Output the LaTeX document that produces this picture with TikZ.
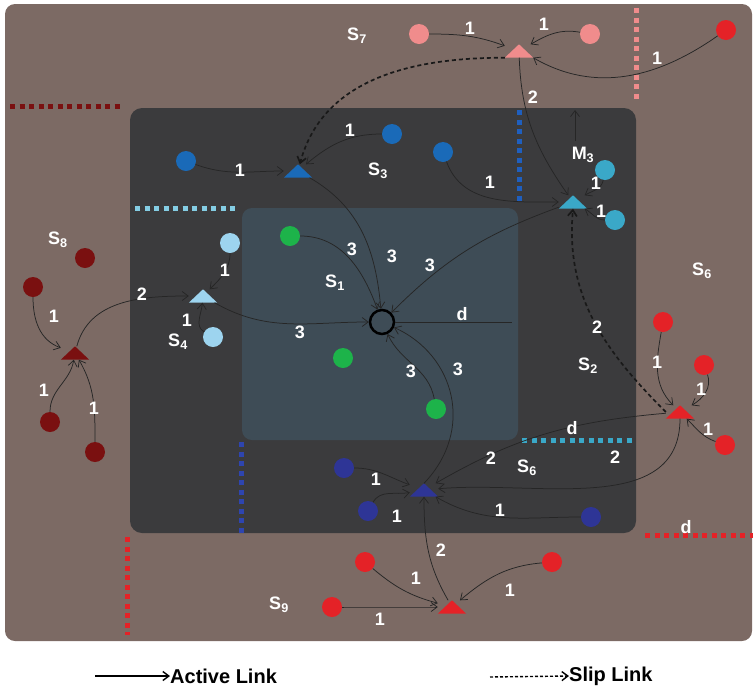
\documentclass[tikz,border=0pt]{standalone}
\usepackage{fontspec}
\setmainfont{Liberation Sans}
\usetikzlibrary{arrows.meta}
\definecolor{bgbrown}{RGB}{124,106,100}
\definecolor{darkbox}{RGB}{59,59,61}
\definecolor{slate}{RGB}{62,76,86}
\definecolor{pinkc}{RGB}{240,140,140}
\definecolor{redc}{RGB}{228,34,39}
\definecolor{dredc}{RGB}{122,16,16}
\definecolor{bluec}{RGB}{26,106,184}
\definecolor{cyanc}{RGB}{58,168,200}
\definecolor{lbluec}{RGB}{157,212,239}
\definecolor{greenc}{RGB}{29,179,74}
\definecolor{indigoc}{RGB}{46,53,150}
\definecolor{ltcyan}{RGB}{132,205,228}
\definecolor{dotblue}{RGB}{31,95,191}
\definecolor{dotindigo}{RGB}{46,69,176}
\begin{document}
\begin{tikzpicture}[x=1pt,y=-1pt,
  dot/.style={circle, fill=#1, minimum size=20pt, inner sep=0pt},
  tri/.style={minimum width=28pt, minimum height=13pt, inner sep=0pt},
  lbl/.style={text=white, font=\bfseries\fontsize{18}{18}\selectfont, inner sep=0pt},
  link/.style={->, line width=0.75pt, draw=black!85},
  slip/.style={->, line width=1.7pt, dash pattern=on 4pt off 3pt, draw=black!90},
  dotline/.style={line width=5pt, dash pattern=on 5pt off 4.5pt, draw=#1},
  >={Straight Barb[length=6pt,width=9pt]}]
\useasboundingbox (0,0) rectangle (753,689);
% backgrounds
\fill[bgbrown, rounded corners=10pt] (5,4) rectangle (752,641);
\fill[darkbox, rounded corners=12pt] (130,108) rectangle (636,533);
\fill[slate, rounded corners=10pt] (242,208) rectangle (518,440);
% dotted boundary lines
\draw[dotline=pinkc] (636,8) -- (636,100);
\draw[dotline=dredc] (10,106) -- (120,106);
\draw[dotline=dotblue] (519,110) -- (519,202);
\draw[dotline=ltcyan] (135,208) -- (235,208);
\draw[dotline=cyanc] (522,440) -- (632,440);
\draw[dotline=dotindigo] (241,442) -- (241,537);
\draw[dotline=redc] (645,535) -- (753,535);
\draw[dotline=redc] (127,537) -- (127,635);

% triangles (hubs)
\node[tri] (t7) at (519,51) {};
\node[tri] (t3) at (298,171) {};
\node[tri] (tm) at (573,202) {};
\node[tri] (t4) at (203,296) {};
\node[tri] (t8) at (75,353) {};
\node[tri] (t2) at (680,412) {};
\node[tri] (t6) at (424,490) {};
\node[tri] (t9) at (452,607) {};
\foreach \n/\c in {t7/pinkc, t3/bluec, tm/cyanc, t4/lbluec, t8/dredc, t2/redc, t6/indigoc, t9/redc}
  \fill[\c] (\n.south west) -- (\n.south east) -- (\n.north) -- cycle;

% center
\node[circle, draw=black, line width=2.5pt, minimum size=24pt, inner sep=0pt] (c) at (382,322) {};
\coordinate (dend) at (512,322);

% circles
\node[dot=pinkc] (p1) at (419,34) {};
\node[dot=pinkc] (p2) at (590,34) {};
\node[dot=redc] (r7) at (726,30) {};
\node[dot=bluec] (b1) at (186,161) {};
\node[dot=bluec] (b2) at (392,134) {};
\node[dot=bluec] (b3) at (443,152) {};
\node[dot=cyanc] (cy1) at (605,170) {};
\node[dot=cyanc] (cy2) at (615,220) {};
\node[dot=lbluec] (lb1) at (230,243) {};
\node[dot=lbluec] (lb2) at (213,337) {};
\node[dot=dredc] (d0) at (85,258) {};
\node[dot=dredc] (d1) at (33,287) {};
\node[dot=dredc] (d2) at (50,422) {};
\node[dot=dredc] (d3) at (95,452) {};
\node[dot=greenc] (g1) at (290,236) {};
\node[dot=greenc] (g2) at (343,358) {};
\node[dot=greenc] (g3) at (436,409) {};
\node[dot=redc] (r1) at (663,322) {};
\node[dot=redc] (r2) at (704,365) {};
\node[dot=redc] (r3) at (725,445) {};
\node[dot=indigoc] (i1) at (344,468) {};
\node[dot=indigoc] (i2) at (368,511) {};
\node[dot=indigoc] (i3) at (591,517) {};
\node[dot=redc] (s1) at (365,562) {};
\node[dot=redc] (s2) at (332,607) {};
\node[dot=redc] (s3) at (552,562) {};

% M3 arrow
\node[lbl] (m3) at (583,155) {M\textsubscript{3}};
\coordinate (m3top) at (575,110);
\draw[link] (575,141) -- (m3top);

% links S7
\draw[link] (p1) to[out=0,in=160] (t7);
\draw[link] (p2) to[out=170,in=30] (t7);
\draw[link] (r7) to[out=215,in=-30] (t7.south east);
\draw[slip] (t7.south west) to[out=180,in=75] (t3);
\draw[link] (t7) to[out=-88,in=125] (tm);
% S3
\draw[link] (b1) to[out=-20,in=180] (t3);
\draw[link] (b2) to[out=180,in=40] (t3);
\draw[link] (t3) to[out=-30,in=95] (c);
\draw[link] (b3) to[out=-70,in=180] (tm);
\draw[link] (cy1) to[out=-100,in=30] (tm);
\draw[link] (cy2) to[out=180,in=-30] (tm);
\draw[link] (tm) to[out=200,in=45] (c);
% S4 / S8
\draw[link] (lb1) to[out=-90,in=45] (t4);
\draw[link] (lb2) to[out=150,in=-95] (t4);
\draw[link] (t4) to[out=-30,in=180] (c);
\draw[link] (t8) to[out=75,in=180] (t4);
\draw[link] (d1) to[out=-90,in=160] (t8);
\draw[link] (d2) to[out=90,in=-100] (t8);
\draw[link] (d3) to[out=90,in=-60] (t8);
% center
\draw[link] (g1) to[out=0,in=110] (c);
\draw[link] (g3) to[out=100,in=-65] (c);
\draw[link] (t6.north) .. controls (475,430) and (455,355) .. (c);
\draw[line width=0.75pt, draw=black!85] (c) -- (dend);
% S2
\draw[link] (r1) to[out=-100,in=135] (t2);
\draw[link] (r2) to[out=-70,in=30] (t2);
\draw[link] (r3) to[out=160,in=-45] (t2);
\draw[slip] (t2.west) to[out=135,in=-95] (tm.south);
\draw[link] (t2) to[out=185,in=30] (t6);
\draw[link] (t2) to[out=-90,in=5] (t6);
% S6
\draw[link] (i1) to[out=0,in=160] (t6);
\draw[link] (i2) to[out=60,in=190] (t6);
\draw[link] (i3) to[out=180,in=-30] (t6);
\draw[link] (t9) to[out=120,in=-90] (t6);
% S9
\draw[link] (s1) to[out=-40,in=165] (t9);
\draw[link] (s2) to[out=0,in=180] (t9);
\draw[link] (s3) to[out=185,in=40] (t9);

% labels
\node[lbl] (n7) at (357,36) {S\textsubscript{7}};
\node[lbl] (n3) at (378,171) {S\textsubscript{3}};
\node[lbl] (n8) at (58,240) {S\textsubscript{8}};
\node[lbl] (n4) at (178,342) {S\textsubscript{4}};
\node[lbl] (n1) at (335,283) {S\textsubscript{1}};
\node[lbl] (n2) at (588,366) {S\textsubscript{2}};
\node[lbl] (n6r) at (702,271) {S\textsubscript{6}};
\node[lbl] (n6) at (527,468) {S\textsubscript{6}};
\node[lbl] (n9) at (279,605) {S\textsubscript{9}};
\node[lbl] (da) at (462,314) {d};
\node[lbl] (db) at (572,428) {d};
\node[lbl] (dc) at (686,527) {d};
\node[lbl] (w1) at (470,28) {1};
\node[lbl] (w2) at (544,24) {1};
\node[lbl] (w3) at (657,58) {1};
\node[lbl] (w4) at (533,97) {2};
\node[lbl] (w5) at (240,170) {1};
\node[lbl] (w6) at (350,130) {1};
\node[lbl] (w7) at (490,182) {1};
\node[lbl] (w8) at (596,183) {1};
\node[lbl] (w9) at (601,211) {1};
\node[lbl] (w10) at (225,270) {1};
\node[lbl] (w11) at (187,320) {1};
\node[lbl] (w12) at (142,294) {2};
\node[lbl] (w13) at (54,316) {1};
\node[lbl] (w14) at (44,390) {1};
\node[lbl] (w15) at (94,408) {1};
\node[lbl] (w16) at (352,249) {3};
\node[lbl] (w17) at (392,256) {3};
\node[lbl] (w18) at (430,265) {3};
\node[lbl] (w19) at (300,332) {3};
\node[lbl] (w20) at (411,371) {3};
\node[lbl] (w21) at (458,369) {3};
\node[lbl] (w22) at (597,327) {2};
\node[lbl] (w23) at (657,362) {1};
\node[lbl] (w24) at (701,389) {1};
\node[lbl] (w25) at (708,429) {1};
\node[lbl] (w26) at (491,458) {2};
\node[lbl] (w27) at (615,457) {2};
\node[lbl] (w28) at (376,479) {1};
\node[lbl] (w29) at (397,516) {1};
\node[lbl] (w30) at (500,510) {1};
\node[lbl] (w31) at (441,550) {2};
\node[lbl] (w32) at (416,578) {1};
\node[lbl] (w33) at (380,619) {1};
\node[lbl] (w34) at (510,590) {1};

% legend
\coordinate (la) at (95,676);
\node[anchor=west, inner sep=0pt, font=\bfseries\fontsize{20}{20}\selectfont] (lt1) at (170,676) {Active Link};
\draw[->, line width=1.4pt] (la) -- (lt1.west);
\coordinate (lb) at (490,677);
\node[anchor=west, inner sep=0pt, font=\bfseries\fontsize{20}{20}\selectfont] (lt2) at (569,676) {Slip Link};
\draw[->, line width=1.4pt, dash pattern=on 3pt off 2pt] (lb) -- (lt2.west);
\end{tikzpicture}
\end{document}
